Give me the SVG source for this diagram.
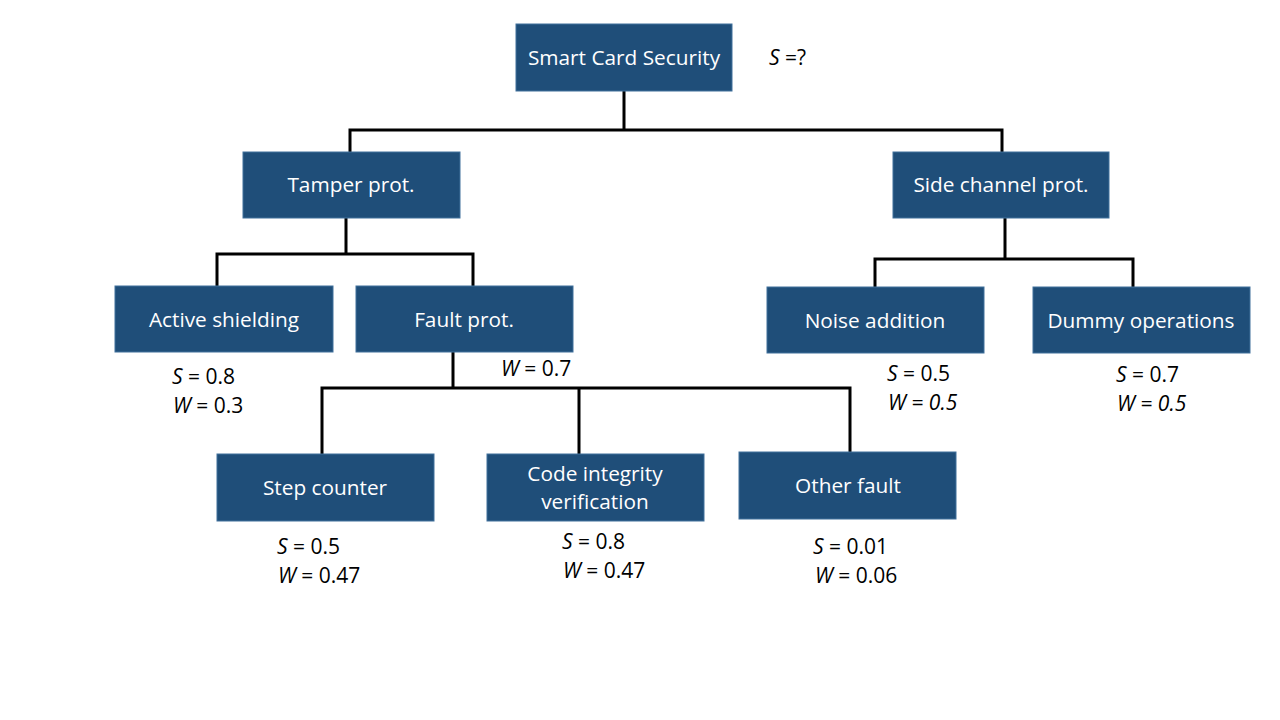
<svg xmlns="http://www.w3.org/2000/svg" width="1280" height="720" viewBox="0 0 1280 720">
<style>
.box{fill:#1F4E79;stroke:#41719C;stroke-width:1}
.nt{font-family:"Open Sans","Liberation Sans",sans-serif;font-size:20.8px;fill:#fff;text-anchor:middle}
.lb{font-family:"Open Sans","Liberation Sans",sans-serif;font-size:21px;fill:#000}
.it{font-style:italic}
.cn{stroke:#000;stroke-width:3;fill:none}
</style>
<rect width="1280" height="720" fill="#fff"/>
<g id="connectors">
<path class="cn" d="M624,91V130M350,152V130H1002V152"/>
<path class="cn" d="M346,218V254M217,286V254H473V286"/>
<path class="cn" d="M1005,218V259M875,287V259H1133V287"/>
<path class="cn" d="M453,352V388M322,454V388H850V452M579,388V454"/>
</g>
<g id="n-root"><rect class="box" x="516" y="24" width="216" height="67"/><text class="nt" x="624" y="65">Smart Card Security</text></g>
<g id="n-tamper"><rect class="box" x="243" y="152" width="217" height="66"/><text class="nt" x="351" y="192">Tamper prot.</text></g>
<g id="n-side"><rect class="box" x="893" y="152" width="216" height="66"/><text class="nt" x="1001" y="192">Side channel prot.</text></g>
<g id="n-active"><rect class="box" x="115" y="286" width="218" height="66"/><text class="nt" x="224" y="327">Active shielding</text></g>
<g id="n-fault"><rect class="box" x="356" y="286" width="217" height="66"/><text class="nt" x="464" y="327">Fault prot.</text></g>
<g id="n-noise"><rect class="box" x="767" y="287" width="217" height="66"/><text class="nt" x="875" y="328">Noise addition</text></g>
<g id="n-dummy"><rect class="box" x="1033" y="287" width="217" height="66"/><text class="nt" x="1141" y="328">Dummy operations</text></g>
<g id="n-step"><rect class="box" x="217" y="454" width="217" height="67"/><text class="nt" x="325" y="495">Step counter</text></g>
<g id="n-code"><rect class="box" x="487" y="454" width="217" height="67"/><text class="nt" x="595" y="481">Code integrity</text><text class="nt" x="595" y="509">verification</text></g>
<g id="n-other"><rect class="box" x="739" y="452" width="217" height="67"/><text class="nt" x="848" y="493">Other fault</text></g>
<g id="labels">
<text class="lb" x="769" y="65"><tspan class="it">S</tspan> =?</text>
<text class="lb" x="172" y="384"><tspan class="it">S</tspan> = 0.8</text>
<text class="lb" x="173" y="413"><tspan class="it">W</tspan> = 0.3</text>
<text class="lb" x="501" y="376"><tspan class="it">W</tspan> = 0.7</text>
<text class="lb" x="887" y="381"><tspan class="it">S</tspan> = 0.5</text>
<text class="lb it" x="888" y="410">W = 0.5</text>
<text class="lb" x="1116" y="382"><tspan class="it">S</tspan> = 0.7</text>
<text class="lb it" x="1117" y="411">W = 0.5</text>
<text class="lb" x="277" y="554"><tspan class="it">S</tspan> = 0.5</text>
<text class="lb" x="278" y="583"><tspan class="it">W</tspan> = 0.47</text>
<text class="lb" x="562" y="549"><tspan class="it">S</tspan> = 0.8</text>
<text class="lb" x="563" y="578"><tspan class="it">W</tspan> = 0.47</text>
<text class="lb" x="813" y="554"><tspan class="it">S</tspan> = 0.01</text>
<text class="lb" x="815" y="583"><tspan class="it">W</tspan> = 0.06</text>
</g>
</svg>
